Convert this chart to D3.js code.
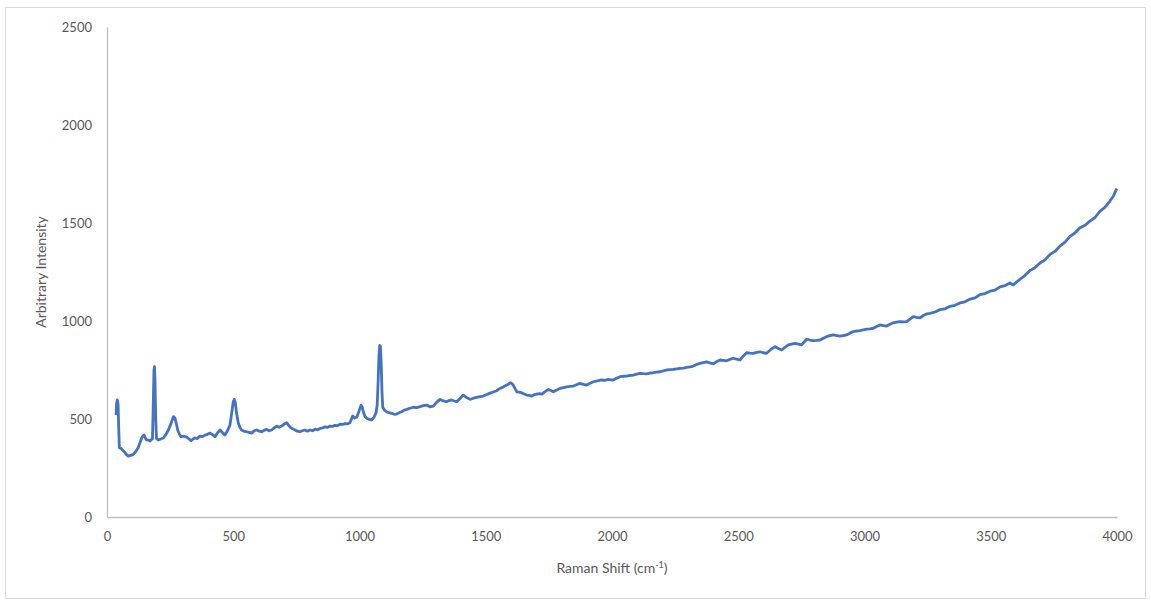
<!DOCTYPE html>
<html>
<head>
<meta charset="utf-8">
<script src="https://cdn.jsdelivr.net/npm/d3@7"></script>
<style>
  body { margin: 0; background: #fff; }
  text { font-family: Lato, "Noto Sans", sans-serif; fill: #595959; }
</style>
</head>
<body>
<div id="chart"></div>
<script>
// Raman spectrum (shift in cm-1, arbitrary intensity)
const shift = [
  36, 38, 41, 44, 46, 49, 56, 62, 70, 77, 84, 93, 103, 113, 123, 131, 139, 147, 153, 157,
  165, 170, 175, 180, 183, 186, 188, 190, 193, 196, 203, 213, 223, 233, 243, 253, 263, 269, 274, 280,
  287, 293, 304, 315, 325, 333, 341, 349, 358, 368, 378, 388, 398, 408, 418, 428, 438, 448, 458, 467,
  477, 487, 495, 500, 504, 508, 513, 520, 527, 533, 543, 553, 563, 573, 583, 593, 603, 613, 622, 632,
  642, 652, 662, 672, 682, 692, 702, 712, 718, 725, 735, 745, 754, 764, 774, 784, 794, 804, 814, 824,
  834, 844, 854, 864, 873, 883, 893, 903, 913, 923, 933, 943, 952, 962, 968, 973, 981, 989, 998, 1006,
  1011, 1015, 1022, 1029, 1038, 1048, 1058, 1065, 1070, 1074, 1077, 1080, 1083, 1086, 1089, 1092, 1099, 1107, 1117, 1127,
  1137, 1147, 1157, 1167, 1177, 1187, 1200, 1213, 1226, 1240, 1253, 1266, 1279, 1292, 1305, 1319, 1332, 1345, 1355, 1365,
  1375, 1385, 1398, 1411, 1424, 1438, 1451, 1464, 1477, 1490, 1504, 1517, 1530, 1543, 1556, 1570, 1583, 1592, 1599, 1604,
  1609, 1616, 1623, 1632, 1642, 1652, 1662, 1672, 1682, 1692, 1702, 1712, 1722, 1735, 1748, 1758, 1768, 1781, 1794, 1808,
  1821, 1834, 1847, 1860, 1873, 1887, 1900, 1913, 1926, 1942, 1959, 1972, 1985, 1995, 2005, 2018, 2032, 2045, 2058, 2071,
  2084, 2098, 2111, 2124, 2137, 2150, 2164, 2177, 2190, 2203, 2216, 2230, 2243, 2256, 2269, 2283, 2296, 2309, 2322, 2335,
  2348, 2362, 2375, 2388, 2401, 2414, 2428, 2441, 2454, 2467, 2480, 2494, 2507, 2520, 2533, 2546, 2560, 2573, 2586, 2599,
  2612, 2629, 2646, 2659, 2672, 2685, 2698, 2711, 2725, 2738, 2751, 2761, 2771, 2784, 2797, 2810, 2824, 2837, 2850, 2863,
  2877, 2890, 2903, 2916, 2929, 2942, 2956, 2969, 2982, 2995, 3009, 3022, 3035, 3048, 3061, 3074, 3088, 3101, 3114, 3127,
  3141, 3154, 3167, 3180, 3193, 3206, 3220, 3233, 3246, 3259, 3279, 3299, 3319, 3339, 3358, 3378, 3398, 3418, 3438, 3457,
  3477, 3497, 3517, 3537, 3556, 3576, 3589, 3602, 3616, 3635, 3655, 3675, 3695, 3715, 3735, 3754, 3774, 3794, 3814, 3833,
  3853, 3873, 3893, 3913, 3933, 3952, 3972, 3986, 3999
];
const intensity = [
  520, 580, 597, 575, 470, 352, 350, 340, 330, 318, 311, 314, 318, 333, 352, 380, 408, 418, 400, 393,
  392, 388, 395, 398, 560, 750, 767, 700, 500, 400, 393, 398, 403, 420, 444, 475, 512, 505, 480, 444,
  422, 410, 412, 408, 398, 389, 398, 403, 400, 413, 410, 418, 422, 428, 420, 410, 430, 444, 430, 418,
  440, 469, 540, 588, 600, 585, 530, 480, 455, 444, 438, 435, 432, 428, 440, 444, 438, 435, 442, 447,
  440, 444, 455, 464, 458, 464, 474, 481, 470, 459, 450, 444, 438, 435, 440, 444, 438, 444, 440, 448,
  445, 452, 455, 460, 457, 464, 462, 468, 466, 474, 472, 477, 475, 481, 500, 515, 505, 509, 540, 571,
  560, 537, 512, 504, 498, 495, 510, 530, 570, 700, 820, 875, 870, 780, 640, 560, 545, 537, 532, 529,
  524, 525, 532, 537, 545, 549, 555, 560, 558, 563, 568, 571, 562, 566, 585, 600, 592, 588, 594, 597,
  592, 588, 605, 622, 610, 600, 606, 610, 614, 617, 625, 632, 638, 644, 656, 664, 673, 680, 685, 680,
  673, 655, 639, 637, 634, 628, 622, 620, 617, 624, 627, 630, 627, 640, 651, 645, 639, 648, 656, 660,
  664, 666, 668, 675, 682, 677, 673, 682, 690, 695, 699, 697, 702, 700, 699, 708, 716, 718, 719, 722,
  724, 729, 733, 731, 730, 734, 736, 739, 741, 746, 750, 752, 753, 756, 758, 760, 763, 766, 770, 778,
  784, 788, 792, 786, 781, 792, 801, 799, 797, 804, 810, 805, 801, 822, 838, 836, 835, 840, 843, 838,
  835, 855, 869, 860, 852, 866, 878, 882, 886, 882, 878, 893, 907, 903, 900, 901, 903, 912, 920, 925,
  929, 926, 923, 926, 929, 938, 946, 949, 951, 955, 958, 960, 963, 972, 980, 977, 974, 983, 991, 994,
  997, 996, 997, 1010, 1022, 1018, 1016, 1028, 1036, 1039, 1046, 1058, 1062, 1075, 1080, 1092, 1098, 1112, 1118, 1135,
  1140, 1152, 1158, 1174, 1180, 1194, 1184, 1198, 1213, 1232, 1258, 1272, 1296, 1312, 1340, 1355, 1382, 1402, 1432, 1449,
  1475, 1488, 1510, 1528, 1561, 1580, 1612, 1638, 1675
];
const xTicks = [0, 500, 1000, 1500, 2000, 2500, 3000, 3500, 4000];
const yTicks = [0, 500, 1000, 1500, 2000, 2500];

const width = 1151, height = 601;
const margin = { left: 107, right: 34, top: 27, bottom: 84 };

const svg = d3.select("#chart").append("svg")
  .attr("width", width)
  .attr("height", height);

// chart frame
svg.append("rect")
  .attr("x", 5.5).attr("y", 7.5)
  .attr("width", 1140).attr("height", 591)
  .attr("fill", "none")
  .attr("stroke", "#d9d9d9");

const x = d3.scaleLinear().domain([0, 4000]).range([margin.left, width - margin.right]);
const y = d3.scaleLinear().domain([0, 2500]).range([height - margin.bottom, margin.top]);

const xAxis = svg.append("g")
  .attr("transform", `translate(0,${y(0)})`)
  .call(d3.axisBottom(x).tickValues(xTicks).tickSize(0).tickPadding(15).tickFormat(d3.format("d")));
const yAxis = svg.append("g")
  .attr("transform", `translate(${x(0)},0)`)
  .call(d3.axisLeft(y).tickValues(yTicks).tickSize(0).tickPadding(15).tickFormat(d3.format("d")));

[xAxis, yAxis].forEach(g => {
  g.select(".domain").attr("stroke", "#bfbfbf").attr("stroke-width", 1.3);
  g.selectAll("text").style("font-size", "13px").style("fill", "#595959")
    .style("font-family", "Lato, 'Noto Sans', sans-serif");
});

// spectrum
const line = d3.line()
  .x((d, i) => x(shift[i]))
  .y(d => y(d));

svg.append("path")
  .datum(intensity)
  .attr("d", line)
  .attr("fill", "none")
  .attr("stroke", "#4472c4")
  .attr("stroke-width", 2.8)
  .attr("stroke-linejoin", "round");

// axis titles
const xt = svg.append("text")
  .attr("x", 612).attr("y", 573)
  .attr("text-anchor", "middle")
  .style("font-size", "14px");
xt.append("tspan").text("Raman Shift (cm");
xt.append("tspan").attr("dy", -5).style("font-size", "9px").text("-1");
xt.append("tspan").attr("dy", 5).text(")");

svg.append("text")
  .attr("transform", "translate(46,272) rotate(-90)")
  .attr("text-anchor", "middle")
  .style("font-size", "14px")
  .text("Arbitrary Intensity");
</script>
</body>
</html>
